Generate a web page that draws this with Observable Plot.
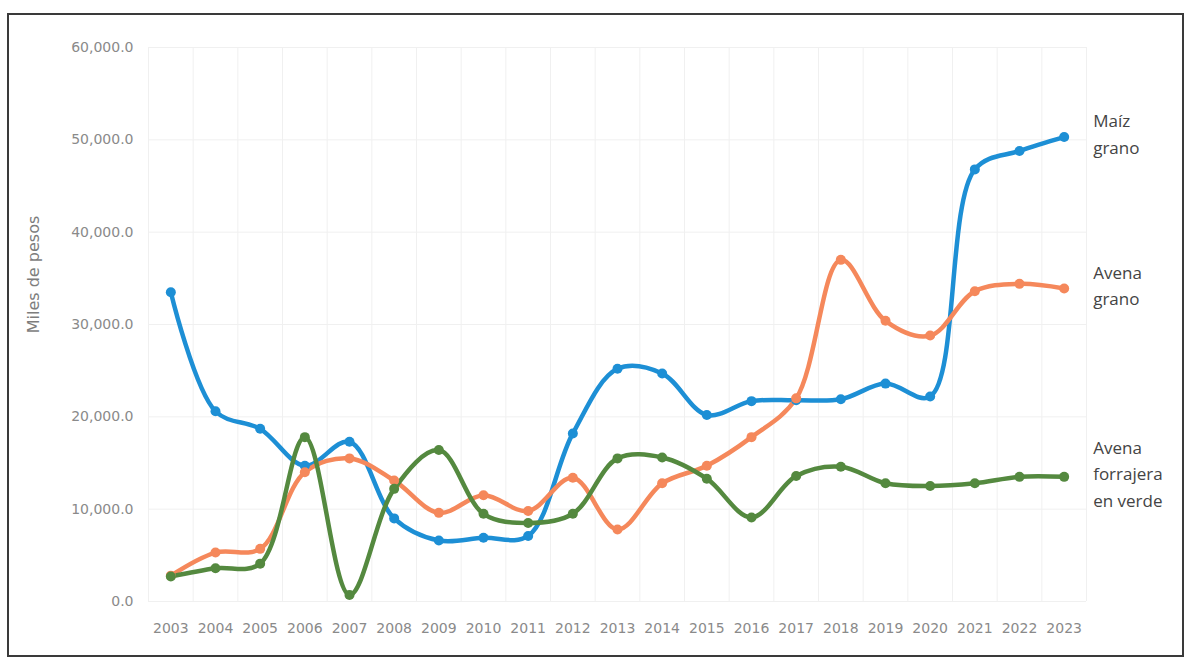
<!DOCTYPE html>
<html>
<head>
<meta charset="utf-8">
<script src="https://cdn.jsdelivr.net/npm/d3@7"></script>
<script src="https://cdn.jsdelivr.net/npm/@observablehq/plot@0.6"></script>
<style>
  html, body { margin: 0; padding: 0; background: #fff; }
  #wrap { position: relative; width: 1188px; height: 662px; overflow: hidden; }
  #border { position: absolute; left: 7px; top: 13px; width: 1173px; height: 640px; border: 2px solid #3a3a3a; pointer-events: none; }
</style>
</head>
<body>
<div id="wrap"><div id="border"></div></div>
<script>
const years = [2003,2004,2005,2006,2007,2008,2009,2010,2011,2012,2013,2014,2015,2016,2017,2018,2019,2020,2021,2022,2023];
const maizGrano = [33500,20600,18700,14700,17300,9000,6600,6900,7100,18200,25200,24700,20200,21700,21800,21900,23600,22200,46800,48800,50300];
const avenaGrano = [2800,5300,5700,14000,15500,13100,9600,11500,9800,13400,7800,12800,14700,17800,22000,37000,30400,28800,33600,34400,33900];
const avenaForrajera = [2700,3600,4100,17800,700,12200,16400,9500,8500,9500,15500,15600,13300,9100,13600,14600,12800,12500,12800,13500,13500];
const seriesNames = ["Maíz grano", "Avena grano", "Avena forrajera en verde"];
const seriesLabels = ["Maíz\ngrano", "Avena\ngrano", "Avena\nforrajera\nen verde"];
const seriesColors = ["#1d8fd5", "#f5885b", "#54893f"];
const yTicks = [0,10000,20000,30000,40000,50000,60000];

const seriesValues = [maizGrano, avenaGrano, avenaForrajera];
const data = seriesNames.flatMap((s, i) => years.map((yr, j) => ({serie: s, label: seriesLabels[i], year: yr, value: seriesValues[i][j]})));
const last = data.filter(d => d.year === years[years.length - 1]);
const gridX = [years[0] - 0.5, ...years.map(y => y + 0.5)];

const chart = Plot.plot({
  width: 1188,
  height: 662,
  marginLeft: 148,
  marginRight: 102,
  marginTop: 47,
  marginBottom: 61,
  style: {fontFamily: "DejaVu Sans", background: "transparent"},
  x: {domain: [years[0] - 0.5, years[years.length - 1] + 0.5]},
  y: {domain: [0, 60000]},
  color: {domain: seriesNames, range: seriesColors},
  marks: [
    Plot.ruleX(gridX, {stroke: "#f0f0f0", strokeWidth: 1}),
    Plot.ruleY(yTicks, {stroke: "#f0f0f0", strokeWidth: 1}),
    Plot.axisY({ticks: yTicks, tickFormat: d3.format(",.1f"), tickSize: 0, tickPadding: 15, fontSize: 14, fill: "#8a8a8a", label: null}),
    Plot.axisX({ticks: years, tickFormat: d => String(d), tickSize: 0, tickPadding: 22, fontSize: 14, fill: "#8a8a8a", label: null}),
    Plot.text(["Miles de pesos"], {frameAnchor: "left", textAnchor: "middle", dx: -115, dy: -50, rotate: -90, fontSize: 16, fill: "#7d7d7d"}),
    Plot.line(data, {x: "year", y: "value", z: "serie", stroke: "serie", strokeWidth: 4.5, curve: "catmull-rom"}),
    Plot.dot(data, {x: "year", y: "value", fill: "serie", r: 5}),
    Plot.text(last, {x: "year", y: "value", text: "label", dx: 29, dy: -5, textAnchor: "start", lineAnchor: "middle", lineHeight: 1.55, fontSize: 17, fill: "#444", fontFamily: "Open Sans"})
  ]
});
document.getElementById("wrap").prepend(chart);
</script>
</body>
</html>
